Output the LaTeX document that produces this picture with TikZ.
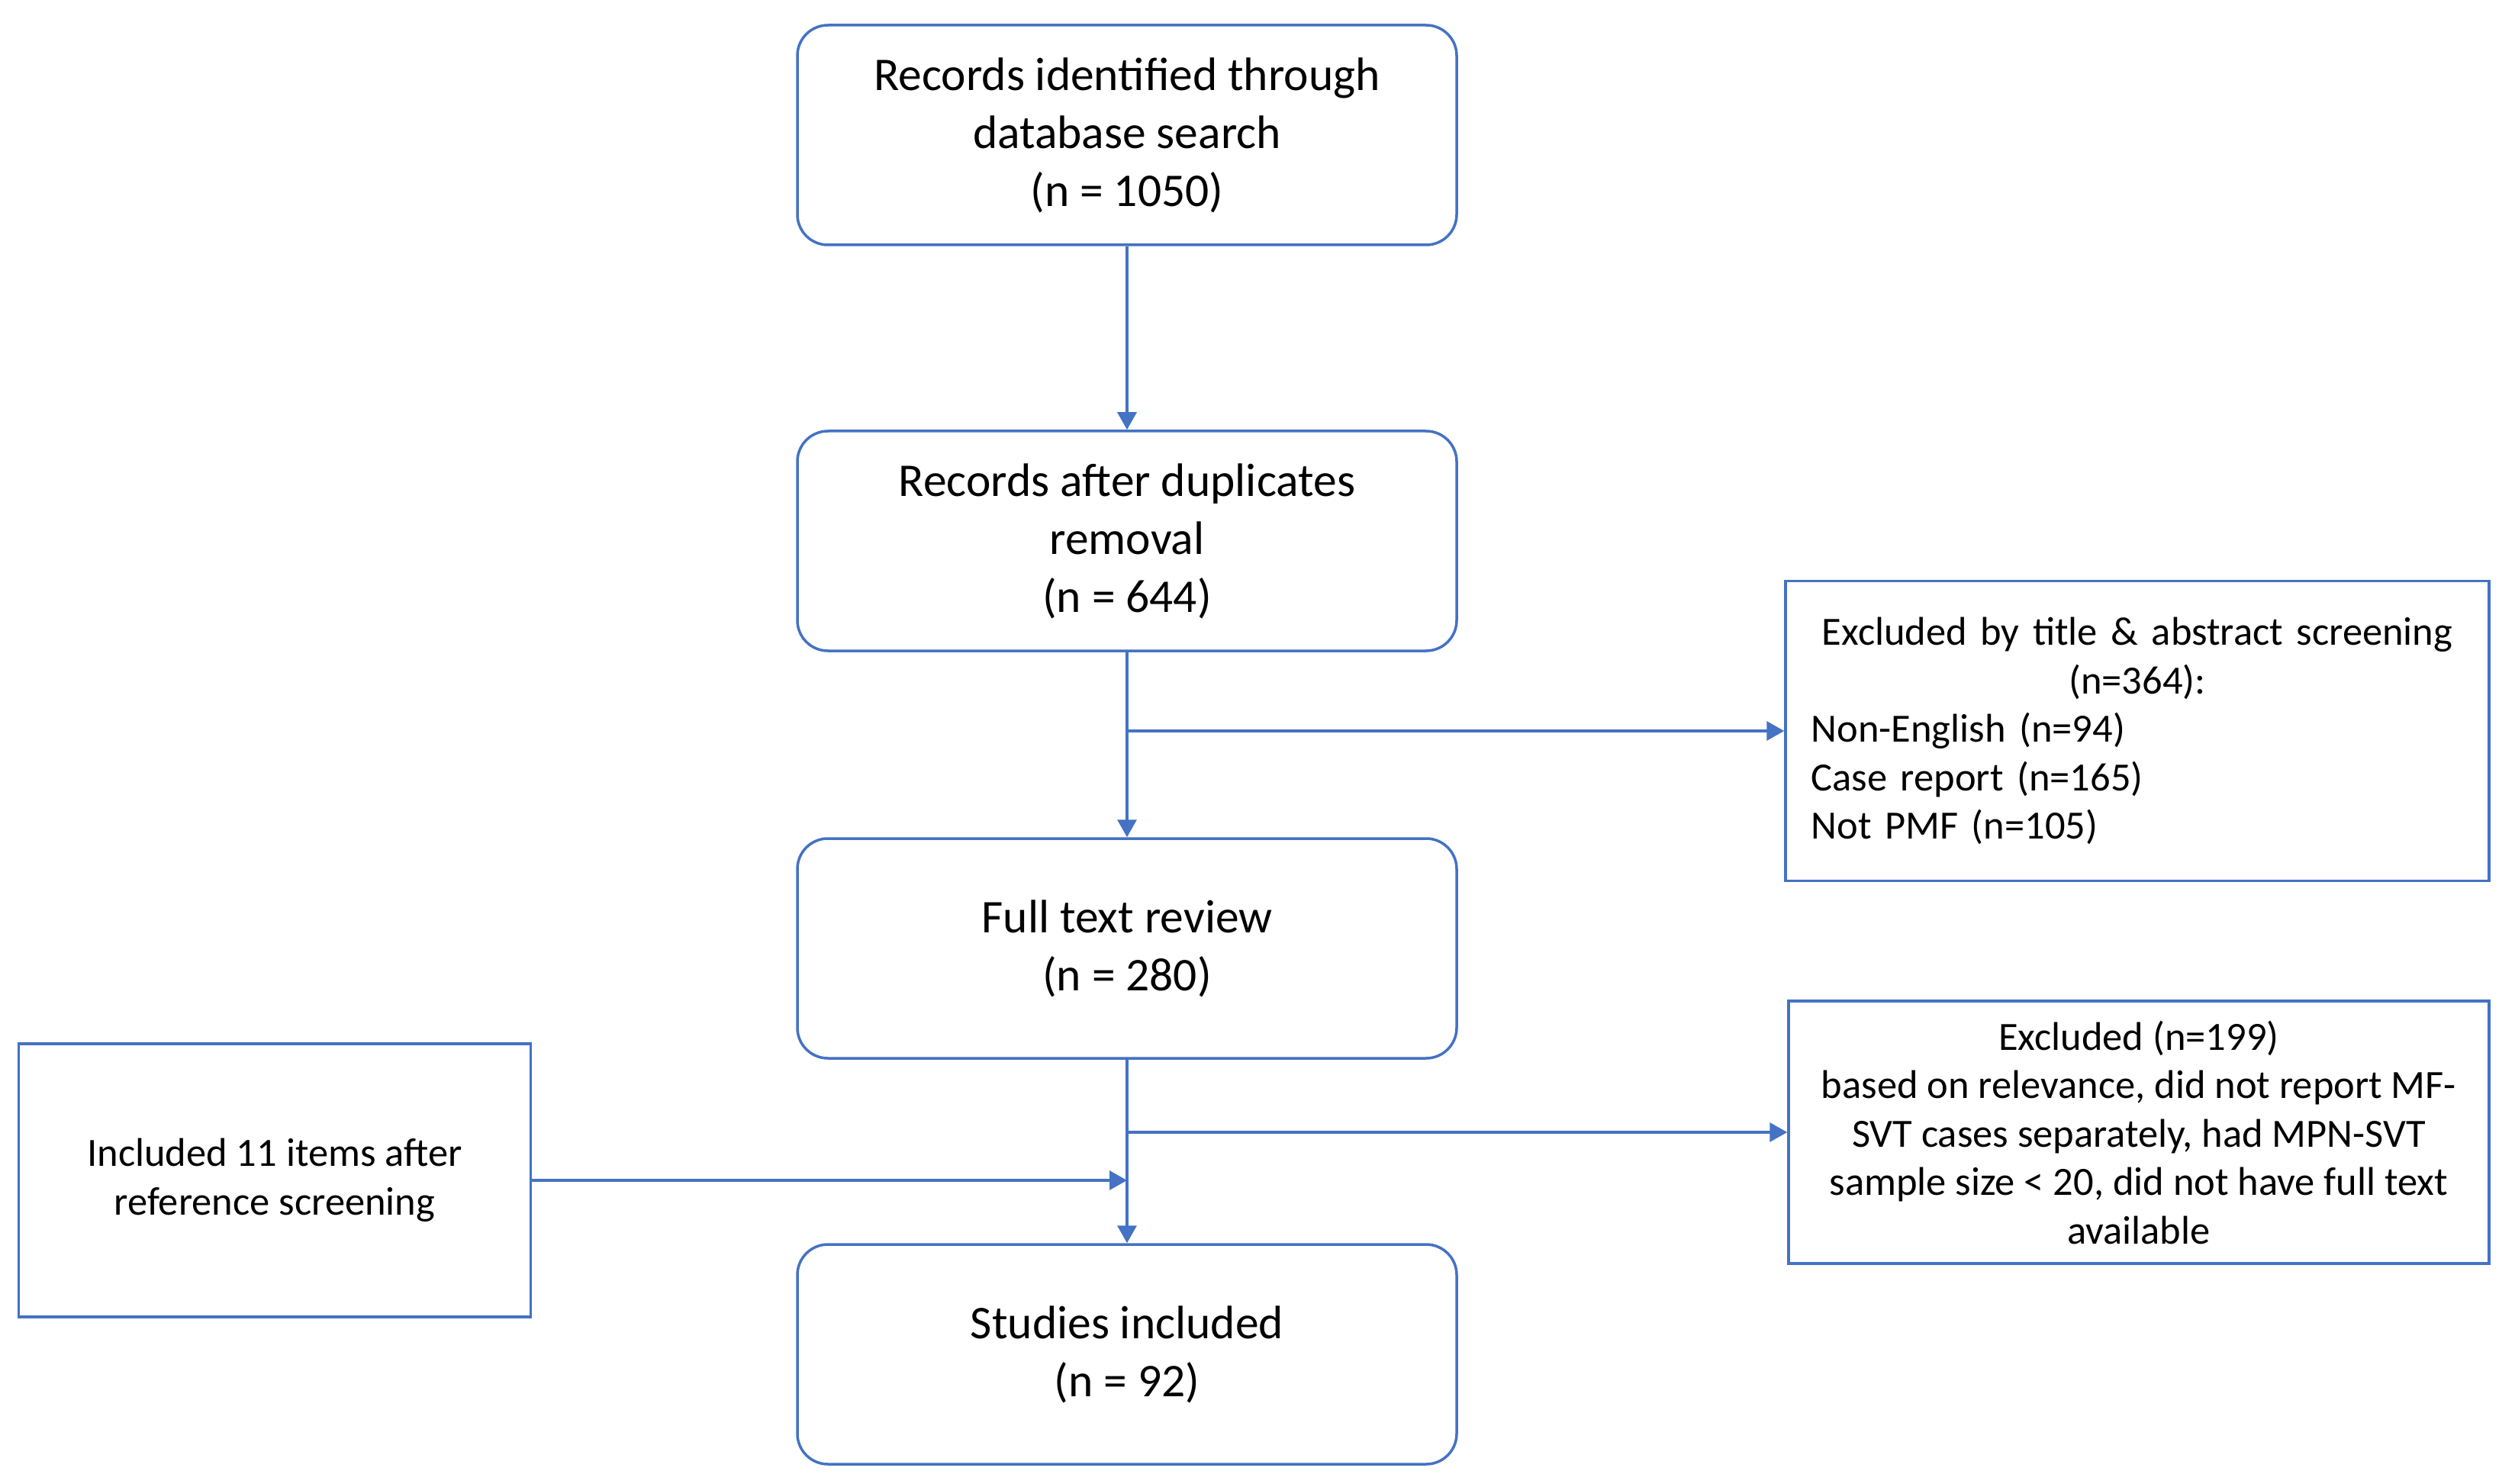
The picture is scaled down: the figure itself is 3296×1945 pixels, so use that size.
\documentclass[tikz,border=0pt]{standalone}
\usepackage{fontspec}
\setmainfont{Carlito}
\usetikzlibrary{arrows.meta}
\definecolor{oblue}{HTML}{4472C4}
\begin{document}
\begin{tikzpicture}[x=0.2pt,y=-0.2pt,
  mainbox/.style={draw=oblue, line width=0.7pt, rounded corners=8pt, minimum width=172.8pt, minimum height=57.6pt, align=center, font=\fontsize{12.3}{15.2}\selectfont, inner sep=0pt},
  sidebox/.style={draw=oblue, line width=0.7pt, align=center, font=\fontsize{10.5}{12.7}\selectfont, inner sep=0pt},
  arr/.style={draw=oblue, line width=0.7pt, -{Triangle[length=4.6pt,width=5pt]}},
  ln/.style={draw=oblue, line width=0.7pt}]
\useasboundingbox (0,0) rectangle (3296,1945);
\node[mainbox] (b1) at (1477,177) {Records identified through\\database search\\(n = 1050)};
\node[mainbox] (b2) at (1477,709) {Records after duplicates\\removal\\(n = 644)};
\node[mainbox] (b3) at (1477,1243) {Full text review\\(n = 280)};
\node[mainbox] (b4) at (1477,1775) {Studies included\\(n = 92)};
\node[sidebox, align=left, minimum width=184.4pt, minimum height=78.6pt, text width=171pt] (ex1) at (2801,958)
  {{\centering Excluded by title \& abstract screening\\(n=364):\par}Non-English (n=94)\\Case report (n=165)\\Not PMF (n=105)};
\node[sidebox, minimum width=183.6pt, minimum height=68.8pt] (ex2) at (2803,1484)
  {Excluded (n=199)\\based on relevance, did not report MF-\\SVT cases separately, had MPN-SVT\\sample size < 20, did not have full text\\available};
\node[sidebox, minimum width=134.2pt, minimum height=71.6pt] (inc) at (360,1547)
  {Included 11 items after\\reference screening};
\draw[arr] (b1.south) -- (b2.north);
\draw[arr] (b2.south) -- (b3.north);
\draw[arr] (b3.south) -- (b4.north);
\coordinate (j1) at (b2.south |- ex1.west);
\coordinate (j2) at (b3.south |- ex2.west);
\coordinate (j3) at (b3.south |- inc.east);
\draw[arr] (j1) -- (ex1.west);
\draw[arr] (j2) -- (ex2.west);
\draw[arr] (inc.east) -- (j3);
\end{tikzpicture}
\end{document}
